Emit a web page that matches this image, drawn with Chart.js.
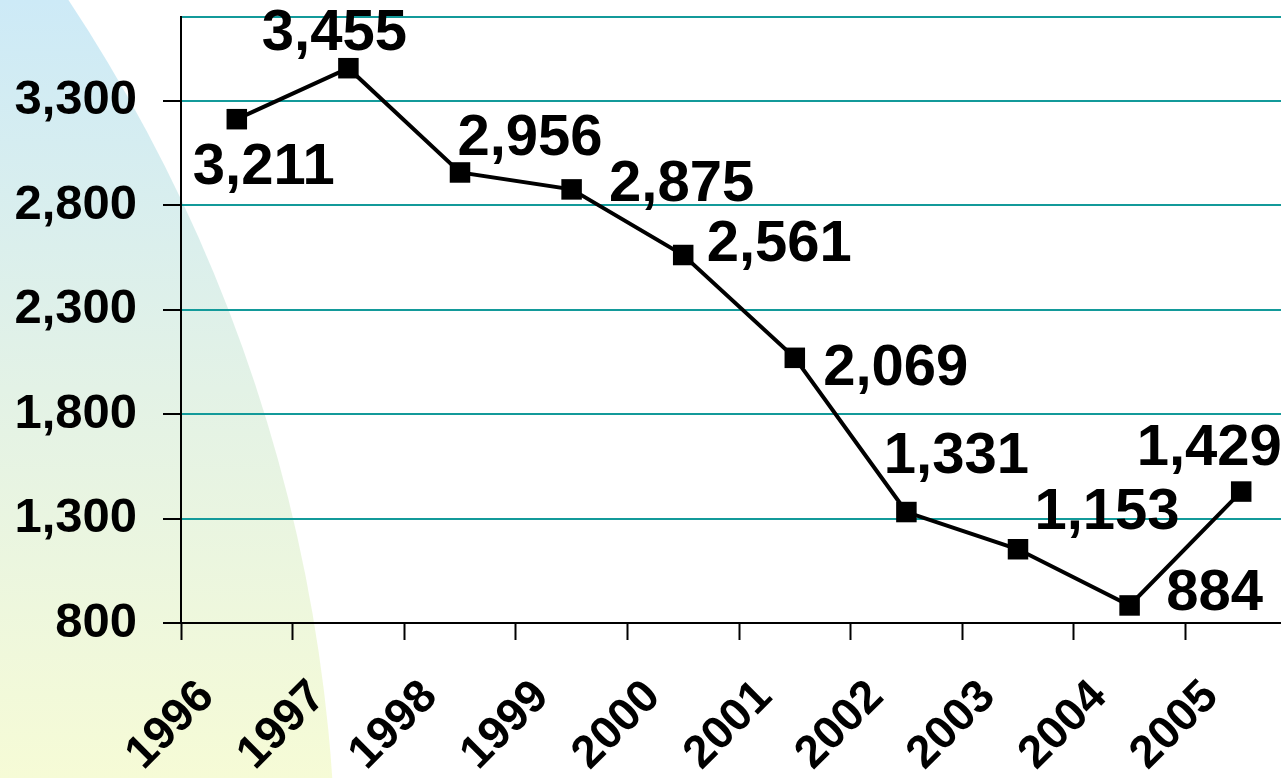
<!DOCTYPE html>
<html>
<head>
<meta charset="utf-8">
<script src="https://cdn.jsdelivr.net/npm/chart.js@4/dist/chart.umd.min.js"></script>
<style>
  html, body { margin: 0; padding: 0; overflow: hidden; background: #fff; }
  canvas { display: block; }
</style>
</head>
<body>
<canvas id="chart" width="1297" height="778"></canvas>
<script>
/* Yearly values, 1996-2005 */
const years = ['1996', '1997', '1998', '1999', '2000', '2001', '2002', '2003', '2004', '2005'];
const values = [3211, 3455, 2956, 2875, 2561, 2069, 1331, 1153, 884, 1429];
const yTicks = [800, 1300, 1800, 2300, 2800, 3300, 3700];

// where each value label sits relative to its point (dx to centre, dy to baseline)
const labelOffsets = [
  [27, 65], [-14, -18], [70, -17], [110, 12], [96, 6],
  [101, 27], [50, -39], [89, -20], [85, 5], [-32, -27]
];

const FONT = "'Liberation Sans', Arial, sans-serif";

// pale blue-to-yellow disc on the left side
const backdrop = {
  id: 'backdrop',
  beforeDraw(chart) {
    const c = chart.ctx;
    const g = c.createLinearGradient(0, 0, 0, chart.height);
    g.addColorStop(0, '#cdeaf7');
    g.addColorStop(0.5, '#e3f2e6');
    g.addColorStop(1, '#f6fbd6');
    c.save();
    c.beginPath();
    c.arc(-1268, 887, 1604, 0, Math.PI * 2);
    c.fillStyle = g;
    c.fill();
    c.restore();
  }
};

const valueLabels = {
  id: 'valueLabels',
  afterDatasetsDraw(chart) {
    const c = chart.ctx;
    const meta = chart.getDatasetMeta(0);
    c.save();
    c.font = 'bold 58px ' + FONT;
    c.fillStyle = '#000';
    c.textAlign = 'center';
    c.textBaseline = 'alphabetic';
    meta.data.forEach((pt, i) => {
      const [dx, dy] = labelOffsets[i];
      c.fillText(values[i].toLocaleString('en-US'), pt.x + dx, pt.y + dy);
    });
    c.restore();
  }
};

function noPad(axis) {
  axis.paddingTop = 0;
  axis.paddingBottom = 0;
  axis.paddingLeft = 0;
  axis.paddingRight = 0;
}

new Chart(document.getElementById('chart'), {
  type: 'line',
  data: {
    labels: years,
    datasets: [{
      data: values,
      borderColor: '#000',
      borderWidth: 4,
      pointStyle: 'rect',
      pointRadius: 14.5,
      pointHoverRadius: 14.5,
      pointBackgroundColor: '#000',
      pointBorderColor: '#000',
      pointBorderWidth: 0,
      tension: 0,
      clip: false
    }]
  },
  options: {
    responsive: false,
    animation: false,
    events: [],
    layout: { autoPadding: false, padding: { top: 17, right: 0, left: 0, bottom: 0 } },
    plugins: {
      legend: { display: false },
      tooltip: { enabled: false }
    },
    scales: {
      x: {
        offset: true,
        grid: {
          offset: true,
          drawOnChartArea: false,
          drawTicks: true,
          tickLength: 17,
          tickColor: '#000',
          tickWidth: 2
        },
        border: { color: '#000', width: 2 },
        ticks: {
          color: '#000',
          font: { family: FONT, size: 46, weight: 'bold' },
          maxRotation: 45,
          minRotation: 45,
          autoSkip: false,
          padding: 30,
          labelOffset: -30
        },
        afterFit(axis) { axis.height = 155; noPad(axis); }
      },
      y: {
        min: 800,
        max: 3700,
        afterBuildTicks(axis) { axis.ticks = yTicks.map(v => ({ value: v })); },
        grid: {
          color: '#139a9a',
          lineWidth: 2,
          tickLength: 18,
          tickColor: ctx => (ctx.tick && ctx.tick.value === 3700) ? 'rgba(0,0,0,0)' : '#000',
          tickWidth: 2
        },
        border: { color: '#000', width: 2 },
        ticks: {
          color: '#000',
          font: { family: FONT, size: 49, weight: 'bold' },
          padding: 26,
          callback: v => v === 3700 ? '' : v.toLocaleString('en-US')
        },
        afterFit(axis) { axis.width = 181; noPad(axis); }
      }
    }
  },
  plugins: [backdrop, valueLabels]
});
</script>
</body>
</html>
